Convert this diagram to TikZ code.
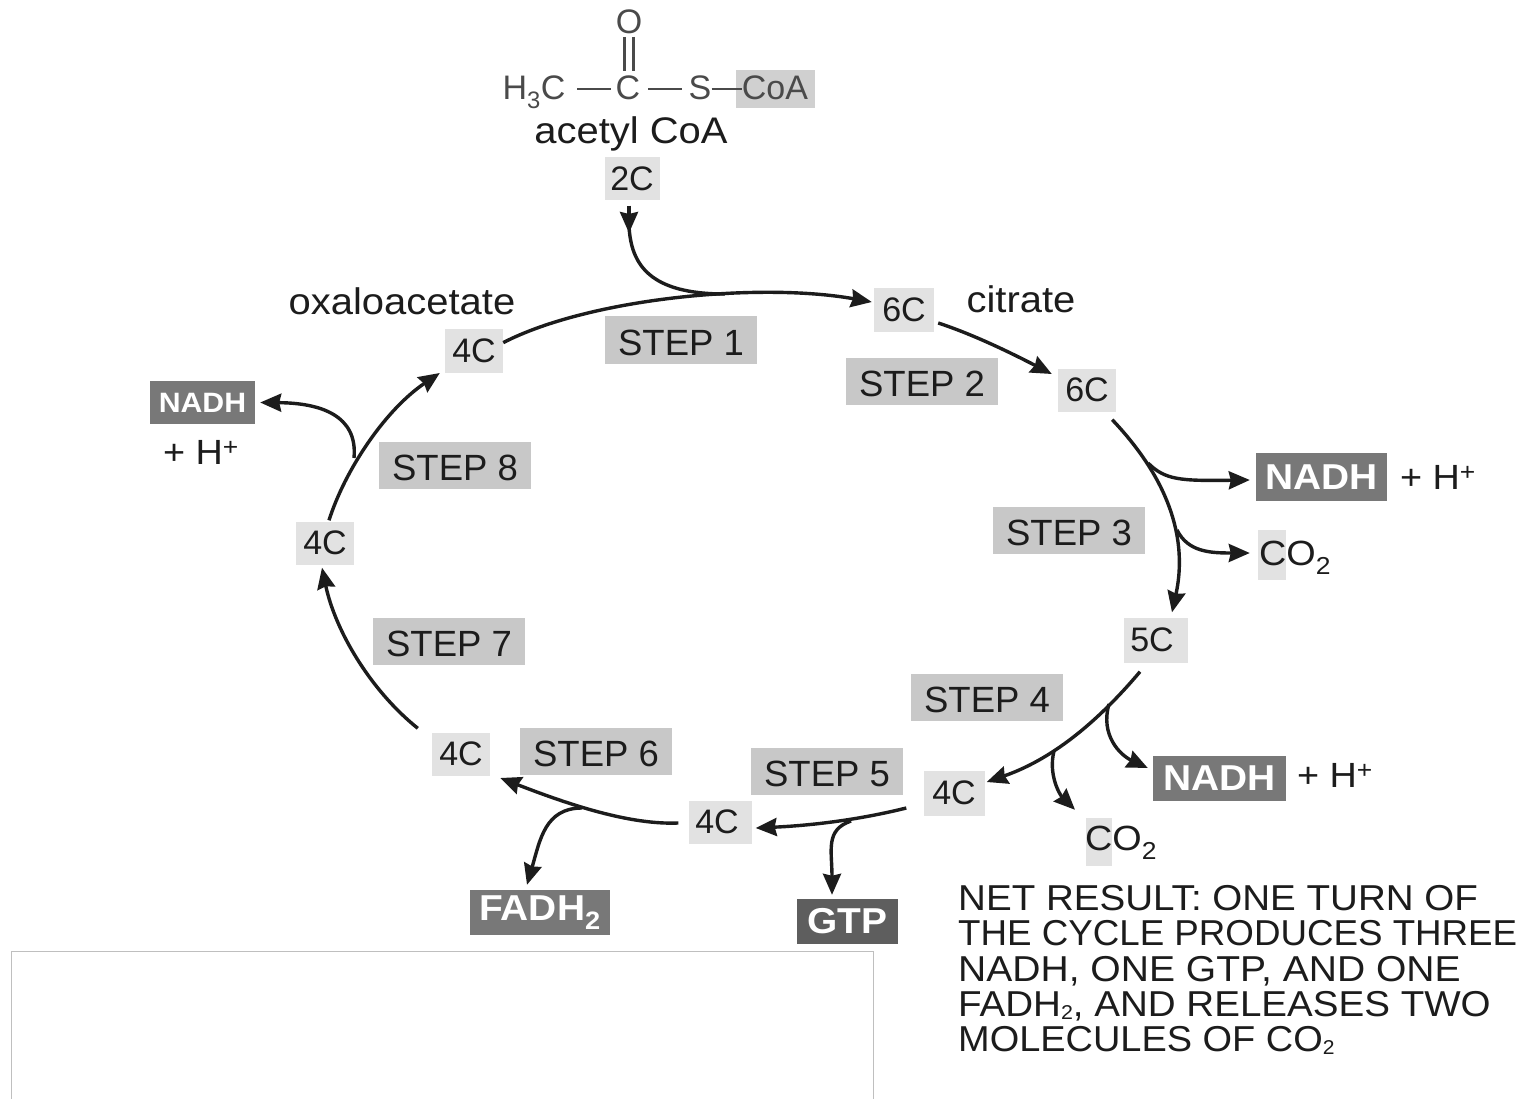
\documentclass[tikz,border=0pt]{standalone}
\usepackage{fontspec}
\usepackage{graphicx}
\setmainfont{Liberation Sans}
\newfontfamily\widef[FakeStretch=1.08]{Liberation Sans}
\newfontfamily\netf[FakeStretch=1.02]{Liberation Sans}
\usetikzlibrary{arrows.meta}
\newcommand{\subtwo}{\raisebox{-3pt}{\fontsize{20}{20}\selectfont 2}}
\newcommand{\widen}[2]{\scalebox{#1}[1]{#2}}
\definecolor{ink}{HTML}{1C1C1C}
\definecolor{chem}{HTML}{4A4A4A}
\definecolor{stepgray}{HTML}{C8C8C8}
\definecolor{cgray}{HTML}{E2E2E2}
\definecolor{energy}{HTML}{787878}
\definecolor{gtpgray}{HTML}{5E5E5E}
\tikzset{
  x=1pt,y=-1pt,
  lbl/.style={inner sep=0pt,text=ink,font=\widef\fontsize{37}{38}\selectfont},
  plus/.style={inner sep=0pt,text=ink,font=\widef\fontsize{35}{38}\selectfont},
  co/.style={inner sep=0pt,text=ink,font=\widef\fontsize{35}{38}\selectfont},
  stepbox/.style={fill=stepgray,inner sep=0pt,minimum width=152,minimum height=47,text height=30pt,text depth=0pt,text=ink,font=\fontsize{36.5}{38}\selectfont},
  cbox/.style={fill=cgray,inner sep=0pt,minimum width=58,minimum height=43,text=ink,font=\fontsize{34}{38}\selectfont},
  energybox/.style={fill=energy,inner sep=0pt,text=white,font=\widef\bfseries\fontsize{36}{38}\selectfont},
  chemtxt/.style={inner sep=0pt,text=chem,anchor=base,font=\fontsize{34}{38}\selectfont},
  flow/.style={draw=ink,line width=3.4pt,-{Stealth[length=21pt,width=18pt,inset=2pt]}},
  plain/.style={draw=ink,line width=3.4pt},
  bond/.style={draw=chem,line width=2.6pt},
}
\begin{document}
\begin{tikzpicture}
\useasboundingbox (0,0) rectangle (1526,1099);
\fill[white] (0,0) rectangle (1526,1099);
% empty panel
\node[draw=black!25,line width=1pt,fill=white,inner sep=0pt,minimum width=862,minimum height=160,anchor=north west] (panel) at (11,951) {};
% acetyl CoA
\node[fill=stepgray!85,inner sep=0pt,minimum width=79,minimum height=38] (coabg) at (775.5,89) {};
\node[chemtxt] (oo) at (629,34) {O};
\node[chemtxt] (h3c) at (534,100) {H\textsubscript{3}C};
\node[chemtxt] (cc) at (628,100) {C};
\node[chemtxt] (ss) at (700,100) {S};
\node[chemtxt] (coa) at (775,100) {CoA};
\draw[bond] (624.5,37) -- (624.5,71) (633.5,37) -- (633.5,71);
\draw[bond] (577,89) -- (611,89);
\draw[bond] (648,89) -- (682,89);
\draw[bond,line width=1.5pt] (ss.east |- coabg.west) -- (coa.west |- coabg.west);
\node[lbl] (acetyl) at (631,134) {acetyl CoA};
\node[cbox,minimum width=55] (c2) at (632,179) {2C};
\node[lbl] (oxa) at (402,301) {oxaloacetate};
\node[lbl] (cit) at (1021,299) {citrate};
% carbon nodes
\node[cbox,minimum width=60] (c6a) at (904,310) {6C};
\node[cbox] (c6b) at (1087,390) {6C};
\node[cbox,minimum width=64,minimum height=45] (c5) at (1156,640) {5C\kern8pt};
\node[cbox,minimum width=61,minimum height=45] (c4a) at (954,793) {4C};
\node[cbox,minimum width=63] (c4b) at (720,822) {4C\kern6pt};
\node[cbox] (c4c) at (461,754) {4C};
\node[cbox] (c4d) at (325,543) {4C};
\node[cbox] (c4e) at (474,351) {4C};
% steps
\node[stepbox] (s1) at (681,340) {STEP 1};
\node[stepbox] (s2) at (922,381) {STEP 2};
\node[stepbox] (s3) at (1069,530) {STEP 3};
\node[stepbox] (s4) at (987,697) {STEP 4};
\node[stepbox] (s5) at (827,771) {STEP 5};
\node[stepbox] (s6) at (596,751) {STEP 6};
\node[stepbox] (s7) at (449,641) {STEP 7};
\node[stepbox] (s8) at (455,465) {STEP 8};
% products
\node[energybox,minimum width=105,minimum height=43,font=\widef\bfseries\fontsize{28}{30}\selectfont] (nadh8) at (202.5,402.5) {NADH};
\node[plus] (h8) at (201,452) {+ H\textsuperscript{+}};
\node[energybox,minimum width=131,minimum height=48] (nadh3) at (1321.5,477) {NADH};
\node[plus] (h3) at (1438,477) {+ H\textsuperscript{+}};
\node[energybox,minimum width=133,minimum height=45] (nadh4) at (1219.5,778) {NADH};
\node[plus] (h4) at (1335,775) {+ H\textsuperscript{+}};
\node[energybox,minimum width=140,minimum height=45] (fadh) at (540,912.5) {FADH\textsubscript{2}};
\node[energybox,fill=gtpgray,minimum width=101,minimum height=45] (gtp) at (847.5,921.5) {GTP};
\node[fill=cgray,inner sep=0pt,minimum width=28,minimum height=50] (co3bg) at (1272,555) {};
\node[fill=cgray,inner sep=0pt,minimum width=26,minimum height=48] (co4bg) at (1099,842) {};
\node[co] (co3) at (1295,558) {CO\textsubscript{2}};
\node[co] (co4) at (1121,843) {CO\textsubscript{2}};
% net result
\node[inner sep=0pt,text=ink,anchor=north west,align=left,font=\netf\fontsize{36}{35.4}\selectfont] (net) at (958,885) {\widen{1.05}{NET RESULT: ONE TURN OF}\\THE CYCLE PRODUCES THREE\\\widen{1.063}{NADH, ONE GTP, AND ONE}\\\widen{1.05}{FADH\subtwo, AND RELEASES TWO}\\\widen{1.033}{MOLECULES OF CO\subtwo}};
% junctions
\coordinate (a2) at (629,233);
\coordinate (a2b) at (629,226);
\coordinate (j1) at (725,294);
\coordinate (j3a) at (1148,463);
\coordinate (j3b) at (1177,530);
\coordinate (j4a) at (1109,704);
\coordinate (j4b) at (1054,751);
\coordinate (j5) at (851,821);
\coordinate (j6) at (582,808);
\coordinate (j8) at (354,458);
% main cycle
\draw[flow] (c4e.16) .. controls (590,298) and (760,282) .. ([xshift=-2pt,yshift=8pt]c6a.west);
\draw[flow] (c2.south) ++(-3,5) -- (a2);
\draw[plain] (a2b) .. controls (631,265) and (650,294) .. (j1);
\draw[flow] (c6a.east) ++(4,13) .. controls (975,335) and (1015,355) .. ([xshift=-6pt,yshift=16pt]c6b.west);
\draw[flow] (c6b.south east) ++(-4,8) .. controls (1160,470) and (1190,530) .. ([xshift=16pt,yshift=5pt]c5.north);
\draw[flow] (c5.south) ++(-16,9) .. controls (1095,725) and (1050,760) .. ([xshift=2pt,yshift=11pt]c4a.east);
\draw[flow] (c4a.west) ++(-17,15) .. controls (850,822) and (800,826) .. ([xshift=4pt,yshift=-6pt]c4b.east);
\draw[flow] (c4b.west) ++(-10,1) .. controls (630,825) and (570,805) .. ([xshift=10pt,yshift=-24pt]c4c.east);
\draw[flow] (c4c.north west) ++(-14,-4) .. controls (370,690) and (335,630) .. ([xshift=-3pt,yshift=-3pt]c4d.south);
\draw[flow] (c4d.north) ++(4,-1) .. controls (345,470) and (385,410) .. ([xshift=-5pt,yshift=-22pt]c4e.west);
% branches
\draw[flow] (j3a) .. controls (1165,480) and (1180,481) .. ([xshift=-6pt,yshift=-3pt]nadh3.west);
\draw[flow] (j3b) .. controls (1188,552) and (1210,553) .. ([xshift=-8pt,yshift=2pt]co3bg.west);
\draw[flow] (j4a) .. controls (1100,735) and (1120,755) .. ([xshift=-5pt,yshift=10pt]nadh4.west);
\draw[flow] (j4b) .. controls (1048,775) and (1060,795) .. ([xshift=-24pt,yshift=8pt]co4bg.north);
\draw[flow] (j5) .. controls (825,830) and (832,850) .. ([xshift=-15.5pt,yshift=4pt]gtp.north);
\draw[flow] (j6) .. controls (545,808) and (540,840) .. ([xshift=-13pt,yshift=5pt]fadh.north);
\draw[flow] (j8) .. controls (358,415) and (320,403) .. ([xshift=5pt]nadh8.east);
\end{tikzpicture}
\end{document}
